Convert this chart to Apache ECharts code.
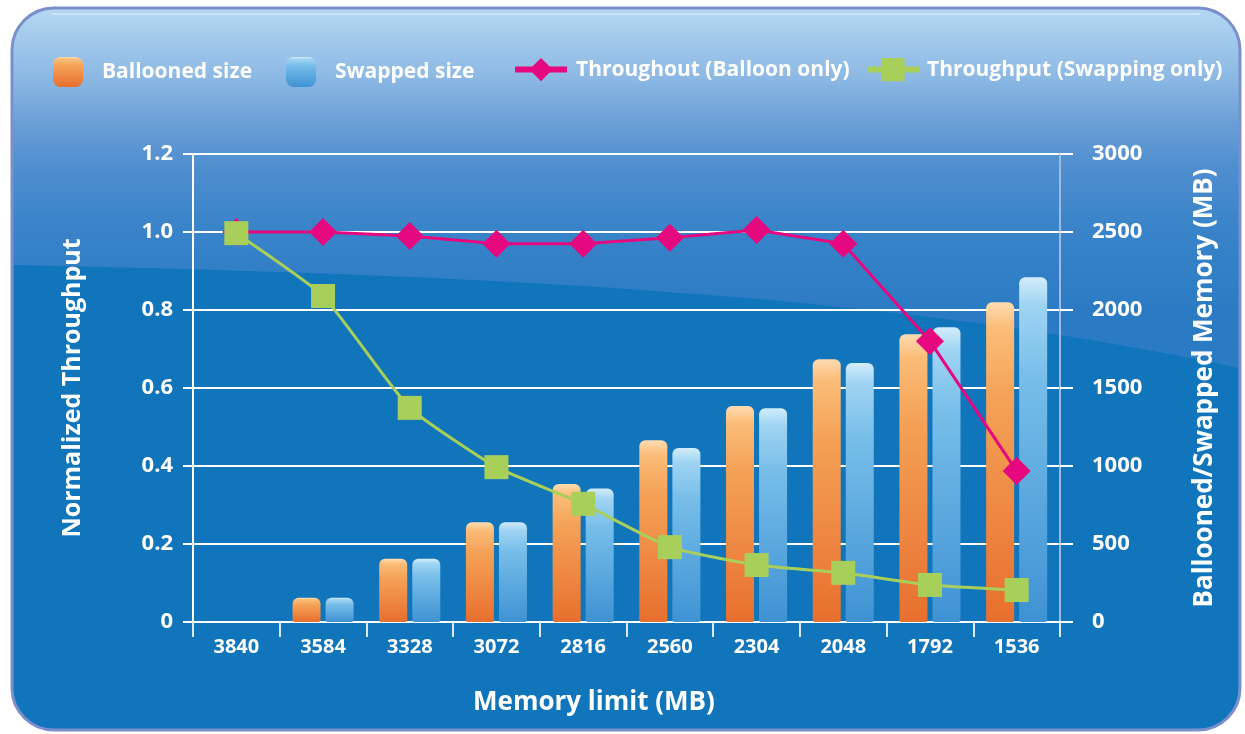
<!DOCTYPE html>
<html>
<head>
<meta charset="utf-8">
<style>
  html, body { margin: 0; padding: 0; background: #ffffff; }
  #chart { width: 1245px; height: 734px; }
</style>
<script src="https://cdn.jsdelivr.net/npm/echarts@6/dist/echarts.min.js"></script>
</head>
<body>
<div id="chart"></div>
<script>
// Memory limit steps (MB), from most to least memory
const memoryLimits = ['3840', '3584', '3328', '3072', '2816', '2560', '2304', '2048', '1792', '1536'];

// Memory reclaimed at each limit (MB, right axis)
const balloonedSize = [0, 155, 405, 640, 885, 1165, 1385, 1685, 1845, 2050];
const swappedSize   = [0, 155, 405, 640, 855, 1115, 1370, 1660, 1890, 2210];

// Normalized throughput (left axis)
const throughputBalloon  = [1.0, 1.0, 0.99, 0.97, 0.97, 0.985, 1.005, 0.97, 0.72, 0.387];
const throughputSwapping = [0.997, 0.836, 0.549, 0.397, 0.303, 0.192, 0.146, 0.126, 0.095, 0.082];

// Axis ticks
const leftTicks  = { min: 0, max: 1.2, interval: 0.2 };
const rightTicks = { min: 0, max: 3000, interval: 500 };

const FONT = 'Open Sans';
const chart = echarts.init(document.getElementById('chart'), null, { renderer: 'canvas' });

// Outline of the darker lower part of the panel: a sweeping curve on top,
// rounded corners at the bottom.
function lowerPanelOutline() {
  const pts = [];
  const p0 = [13.5, 265], c1 = [500, 275], c2 = [900, 295], p3 = [1238.5, 368];
  for (let i = 0; i <= 40; i++) {
    const t = i / 40, u = 1 - t;
    pts.push([
      u * u * u * p0[0] + 3 * u * u * t * c1[0] + 3 * u * t * t * c2[0] + t * t * t * p3[0],
      u * u * u * p0[1] + 3 * u * u * t * c1[1] + 3 * u * t * t * c2[1] + t * t * t * p3[1]
    ]);
  }
  const r = 40.5, bottom = 728.5, left = 13.5, right = 1238.5;
  for (let i = 0; i <= 12; i++) {
    const a = (i / 12) * Math.PI / 2;
    pts.push([right - r + r * Math.cos(a), bottom - r + r * Math.sin(a)]);
  }
  for (let i = 0; i <= 12; i++) {
    const a = Math.PI / 2 + (i / 12) * Math.PI / 2;
    pts.push([left + r + r * Math.cos(a), bottom - r + r * Math.sin(a)]);
  }
  return pts;
}

const orangeFill = new echarts.graphic.LinearGradient(0, 0, 0, 1, [
  { offset: 0, color: '#fedcb2' },
  { offset: 0.08, color: '#fbbd78' },
  { offset: 0.3, color: '#f4a257' },
  { offset: 1, color: '#e86f2e' }
]);
const blueFill = new echarts.graphic.LinearGradient(0, 0, 0, 1, [
  { offset: 0, color: '#d2ecfa' },
  { offset: 0.08, color: '#9fd4f3' },
  { offset: 0.3, color: '#76bde9' },
  { offset: 1, color: '#3f92d3' }
]);

const legendBase = {
  orient: 'horizontal',
  padding: 0,
  selectedMode: false,
  textStyle: { color: '#ffffff', fontFamily: FONT, fontWeight: 'bold', fontSize: 21 }
};

function tickLabel(size) {
  return { color: '#ffffff', fontFamily: FONT, fontWeight: 'bold', fontSize: size };
}

const option = {
  animation: false,
  graphic: [
    // rounded panel, upper lighter part
    {
      type: 'rect', z: -10, silent: true,
      shape: { x: 12, y: 8, width: 1228, height: 722, r: 42 },
      style: {
        fill: new echarts.graphic.LinearGradient(0, 0, 0, 1, [
          { offset: 0, color: '#b5d8f3' },
          { offset: 0.02, color: '#acd1ef' },
          { offset: 0.1, color: '#8ab7e3' },
          { offset: 0.16, color: '#6a9fd6' },
          { offset: 0.22, color: '#4f8ecf' },
          { offset: 0.3, color: '#3a84c9' },
          { offset: 0.42, color: '#2b7bc4' },
          { offset: 1, color: '#2479c2' }
        ])
      }
    },
    // lower darker part below the sweeping curve
    {
      type: 'polygon', z: -9, silent: true,
      shape: { points: lowerPanelOutline() },
      style: { fill: '#1175bc' }
    },
    // rim
    {
      type: 'rect', z: -8, silent: true,
      shape: { x: 12, y: 8, width: 1228, height: 722, r: 42 },
      style: { fill: null, stroke: '#7a8fcc', lineWidth: 3 }
    },
    // faint highlight just inside the top rim
    {
      type: 'line', z: -8, silent: true,
      shape: { x1: 52, y1: 14, x2: 1200, y2: 14 },
      style: { stroke: 'rgba(255,255,255,0.35)', lineWidth: 2 }
    }
  ],
  title: {
    text: 'Memory limit (MB)',
    left: 473, top: 690, padding: 0,
    textStyle: { color: '#ffffff', fontFamily: FONT, fontWeight: 'bold', fontSize: 26 }
  },
  legend: [
    Object.assign({}, legendBase, {
      left: 53, top: 57, itemWidth: 30, itemHeight: 30, icon: 'roundRect',
      data: ['Ballooned size'],
      textStyle: Object.assign({}, legendBase.textStyle, { padding: [0, 0, 0, 14] })
    }),
    Object.assign({}, legendBase, {
      left: 286, top: 57, itemWidth: 30, itemHeight: 30, icon: 'roundRect',
      data: ['Swapped size'],
      textStyle: Object.assign({}, legendBase.textStyle, { padding: [0, 0, 0, 14] })
    }),
    Object.assign({}, legendBase, {
      left: 512, top: 58, itemWidth: 52, itemHeight: 29,
      lineStyle: { width: 6 },
      data: ['Throughout (Balloon only)'],
      textStyle: Object.assign({}, legendBase.textStyle, { padding: [0, 0, 0, 4] })
    }),
    Object.assign({}, legendBase, {
      left: 864, top: 58, itemWidth: 52, itemHeight: 29,
      lineStyle: { width: 6 },
      data: ['Throughput (Swapping only)'],
      textStyle: Object.assign({}, legendBase.textStyle, { padding: [0, 0, 0, 3] })
    })
  ],
  grid: { left: 193, right: 185, top: 154, bottom: 112, containLabel: false },
  xAxis: {
    type: 'category',
    data: memoryLimits,
    boundaryGap: true,
    axisLine: { lineStyle: { color: '#ffffff', width: 2 } },
    axisTick: { show: true, length: 15, lineStyle: { color: '#dfe8f5', width: 2 } },
    axisLabel: Object.assign(tickLabel(20), { margin: 15 }),
    splitLine: { show: false }
  },
  yAxis: [
    {
      type: 'value',
      position: 'left',
      min: leftTicks.min, max: leftTicks.max, interval: leftTicks.interval,
      name: 'Normalized Throughput',
      nameLocation: 'middle', nameRotate: 90, nameGap: 108,
      nameTextStyle: { color: '#ffffff', fontFamily: FONT, fontWeight: 'bold', fontSize: 25 },
      axisLine: { show: true, lineStyle: { color: '#ffffff', width: 2 } },
      axisTick: { show: true, length: 10, lineStyle: { color: '#ffffff', width: 2 } },
      axisLabel: Object.assign(tickLabel(22), {
        margin: 20,
        formatter: v => (v === 0 ? '0' : v.toFixed(1))
      }),
      splitLine: { show: true, lineStyle: { color: '#ffffff', width: 2 } }
    },
    {
      type: 'value',
      position: 'right',
      min: rightTicks.min, max: rightTicks.max, interval: rightTicks.interval,
      name: 'Ballooned/Swapped Memory (MB)',
      nameLocation: 'middle', nameRotate: 90, nameGap: 132,
      nameTextStyle: { color: '#ffffff', fontFamily: FONT, fontWeight: 'bold', fontSize: 26 },
      axisLine: { show: true, lineStyle: { color: '#9fb9e3', width: 2 } },
      axisTick: { show: true, length: 13, lineStyle: { color: '#ffffff', width: 2 } },
      axisLabel: Object.assign(tickLabel(22), {
        margin: 32,
        formatter: v => String(v)
      }),
      splitLine: { show: false }
    }
  ],
  series: [
    {
      name: 'Ballooned size',
      type: 'bar',
      yAxisIndex: 1,
      data: balloonedSize,
      barWidth: 28,
      barGap: '18%',
      itemStyle: { color: orangeFill, borderRadius: [6, 6, 2, 2] }
    },
    {
      name: 'Swapped size',
      type: 'bar',
      yAxisIndex: 1,
      data: swappedSize,
      barWidth: 28,
      barGap: '18%',
      itemStyle: { color: blueFill, borderRadius: [6, 6, 2, 2] }
    },
    {
      name: 'Throughout (Balloon only)',
      type: 'line',
      yAxisIndex: 0,
      data: throughputBalloon,
      symbol: 'diamond',
      symbolSize: [28, 28],
      lineStyle: { color: '#e6087f', width: 3 },
      itemStyle: { color: '#e6087f' }
    },
    {
      name: 'Throughput (Swapping only)',
      type: 'line',
      yAxisIndex: 0,
      data: throughputSwapping,
      smooth: 0.15,
      symbol: 'rect',
      symbolSize: [24, 24],
      lineStyle: { color: '#a9cf5b', width: 3 },
      itemStyle: { color: '#a9cf5b' }
    }
  ]
};

chart.setOption(option);
</script>
</body>
</html>
